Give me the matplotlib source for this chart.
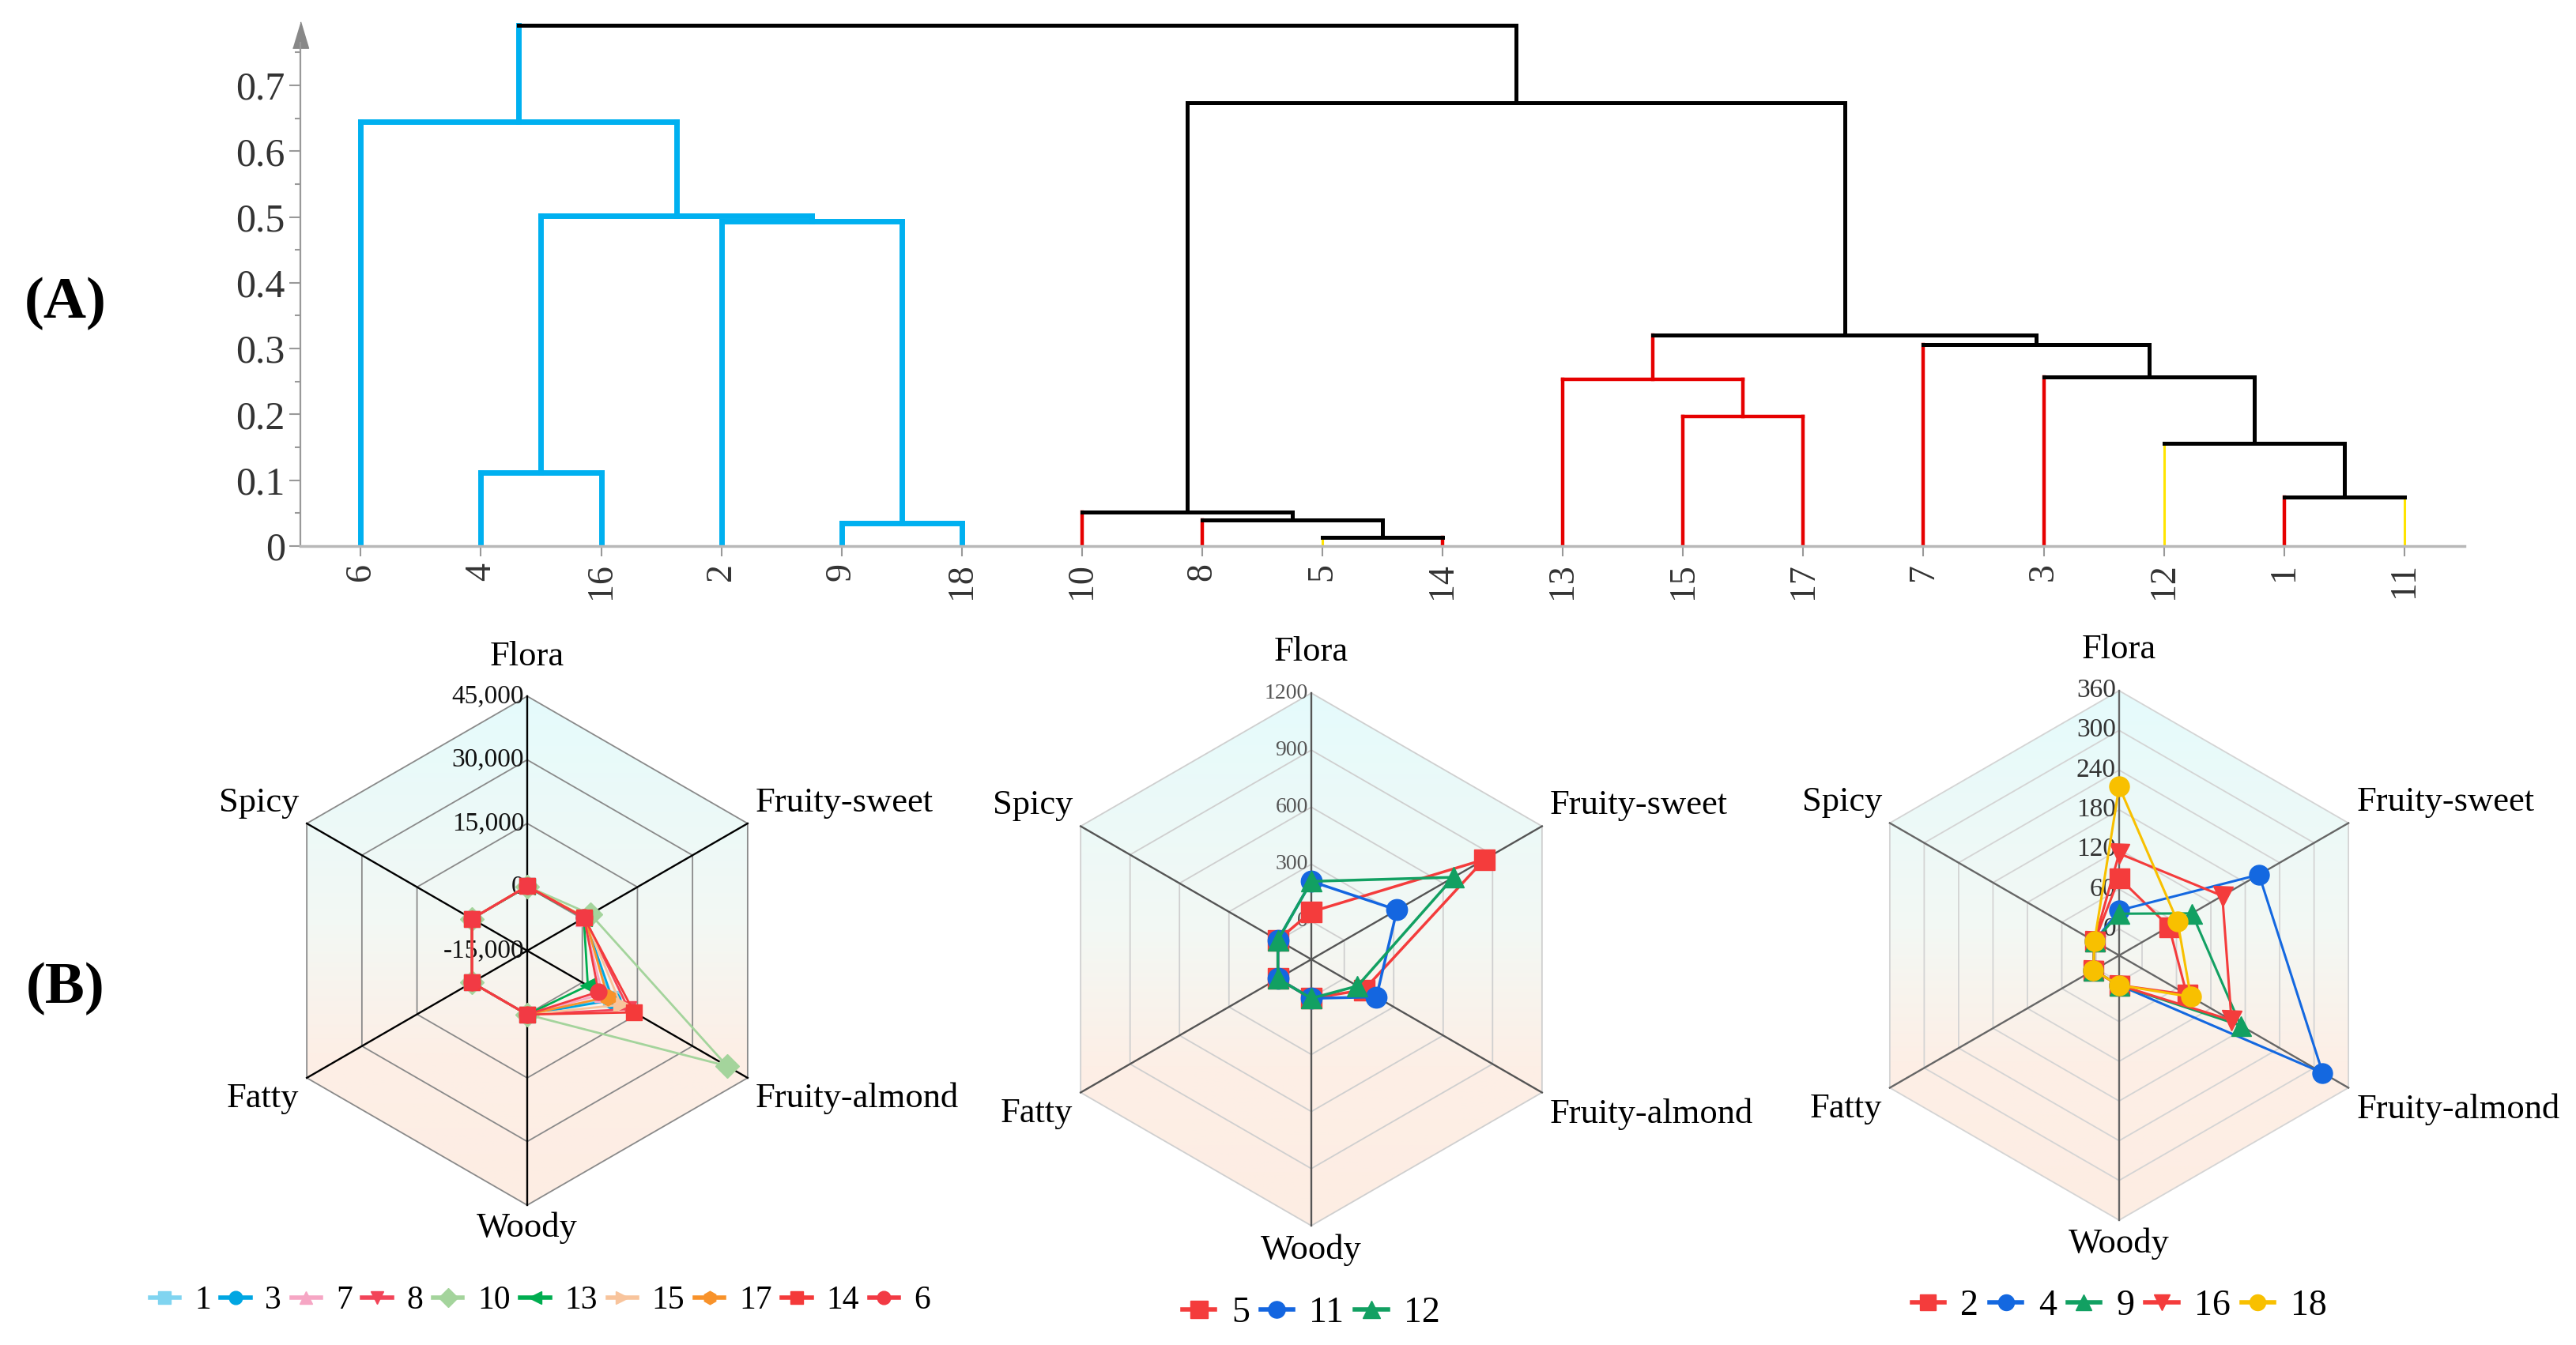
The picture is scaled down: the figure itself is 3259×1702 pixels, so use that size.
import numpy as np
import matplotlib
matplotlib.use("Agg")
from matplotlib import pyplot as plt
from matplotlib.patches import Polygon

plt.rcParams['font.family'] = ['Liberation Serif', 'DejaVu Serif']

# ---------------- (A) dendrogram data ----------------
LEAF_LABELS = ["6", "4", "16", "2", "9", "18", "10", "8", "5", "14",
               "13", "15", "17", "7", "3", "12", "1", "11"]
LEAF_GROUPS = ["blue", "blue", "blue", "blue", "blue", "blue",
               "red", "red", "yellow", "red", "red", "red", "red",
               "red", "red", "yellow", "red", "yellow"]
# leaves are nodes 0..17, merge k creates node 18+k
MERGE_LEFT = [4, 8, 7, 6, 16, 1, 15, 11, 10, 14, 13, 26, 3, 23, 0, 21, 32]
MERGE_RIGHT = [5, 9, 19, 20, 17, 2, 22, 12, 25, 24, 27, 28, 18, 30, 31, 29, 33]
MERGE_HEIGHT = [0.035, 0.013, 0.040, 0.052, 0.074, 0.112, 0.156, 0.197, 0.253,
                0.257, 0.306, 0.320, 0.494, 0.502, 0.645, 0.673, 0.791]

# ---------------- (B) radar data ----------------
AXIS_NAMES = ["Flora", "Fruity-sweet", "Fruity-almond", "Woody", "Fatty", "Spicy"]

G1_LABELS = ["1", "3", "7", "8", "10", "13", "15", "17", "14", "6"]
G1_VALUES = [
    [200, 500, 7800, 60, 40, 50],
    [200, 500, 8300, 60, 40, 50],
    [250, 300, 5500, 60, 40, 50],
    [200, 600, 12600, 60, 40, 50],
    [150, 2200, 39400, 60, 40, 50],
    [100, 400, 1500, 60, 40, 50],
    [250, 600, 10500, 60, 40, 50],
    [250, 700, 6900, 60, 40, 50],
    [200, 500, 14100, 60, 40, 50],
    [200, 500, 4400, 60, 40, 50],
]
G1_TICKS = [-15000, 0, 15000, 30000, 45000]
G1_TICK_TEXT = ["-15,000", "0", "15,000", "30,000", "45,000"]

G2_LABELS = ["5", "11", "12"]
G2_VALUES = [
    [50, 850, 120, 5, 3, 3],
    [210, 320, 195, 5, 3, 3],
    [210, 663, 80, 5, 3, 3],
]
G2_TICKS = [-200, 0, 300, 600, 900, 1200]
G2_TICK_TEXT = ["", "0", "300", "600", "900", "1200"]

G3_LABELS = ["2", "4", "9", "16", "18"]
G3_VALUES = [
    [77, 47, 78, 5, 5, 3],
    [28, 204, 315, 5, 5, 3],
    [23, 87, 172, 5, 5, 3],
    [114, 140, 156, 5, 5, 3],
    [215, 62, 85, 5, 5, 3],
]
G3_TICKS = [-40, 0, 60, 120, 180, 240, 300, 360]
G3_TICK_TEXT = ["", "0", "60", "120", "180", "240", "300", "360"]

G1_COLORS = ["#80d4f0", "#00a6e2", "#f6a6c4", "#f24458", "#a4d49c",
             "#00ad50", "#f8c49c", "#f8922a", "#f43a3a", "#f23a44"]
G1_MARKERS = ["s", "o", "^", "v", "D", "<", ">", "h", "s", "o"]
G2_COLORS = ["#f43c3c", "#1466e0", "#12a062"]
G2_MARKERS = ["s", "o", "^"]
G3_COLORS = ["#f43c3c", "#1468e0", "#12a062", "#f43c3c", "#f8c000"]
G3_MARKERS = ["s", "o", "^", "v", "o"]

W, H = 3259, 1702
fig = plt.figure(figsize=(W / 100, H / 100), dpi=100)

# ---------------- dendrogram ----------------
ax = fig.add_axes([0.1167, 0.594, 0.840, 0.3915])
ax.set_xlim(-0.5, 17.5)
ax.set_ylim(0, 0.8)

col = {"blue": "#00b0f0", "red": "#e60000", "yellow": "#ffe400", "black": "#000000"}
lw = {"blue": 5.0, "red": 3.2, "yellow": 2.2, "black": 3.6}

node_x = list(range(len(LEAF_LABELS)))
node_y = [0.0] * len(LEAF_LABELS)
node_c = list(LEAF_GROUPS)
for left, right, h in zip(MERGE_LEFT, MERGE_RIGHT, MERGE_HEIGHT):
    c = node_c[left] if node_c[left] == node_c[right] else "black"
    for n in (left, right):
        ax.plot([node_x[n], node_x[n]], [node_y[n], h], color=col[node_c[n]],
                lw=lw[node_c[n]], solid_capstyle="projecting")
    ax.plot([node_x[left], node_x[right]], [h, h], color=col[c], lw=lw[c],
            solid_capstyle="projecting")
    node_x.append((node_x[left] + node_x[right]) / 2)
    node_y.append(h)
    node_c.append(c)

for s in ("top", "right"):
    ax.spines[s].set_visible(False)
ax.spines["left"].set_color("#999999")
ax.spines["left"].set_linewidth(1.6)
ax.spines["left"].set_bounds(0, 0.765)
ax.spines["bottom"].set_color("#b8b8b8")
ax.spines["bottom"].set_linewidth(2.5)
ax.plot([-0.5], [0.777], marker=[(-0.6, -1), (0.6, -1), (0, 1)], ms=24,
        color="#888888", clip_on=False)

ax.set_yticks(np.arange(0, 0.71, 0.1))
ax.set_yticklabels(["0", "0.1", "0.2", "0.3", "0.4", "0.5", "0.6", "0.7"])
ax.set_yticks(np.arange(0.05, 0.76, 0.1), minor=True)
ax.tick_params(axis="y", which="major", length=10, width=1.5, color="#999999",
               labelsize=36, labelcolor="#333333", pad=4)
ax.tick_params(axis="y", which="minor", length=5, width=1.5, color="#999999")
ax.set_xticks(range(len(LEAF_LABELS)))
ax.set_xticklabels(LEAF_LABELS, rotation=90)
ax.tick_params(axis="x", length=9, width=1.5, color="#999999",
               labelsize=33, labelcolor="#333333", pad=6)

fig.text(0.0255, 0.774, "(A)", fontsize=54, fontweight="bold", ha="center", va="center")
fig.text(0.0255, 0.265, "(B)", fontsize=54, fontweight="bold", ha="center", va="center")

# ---------------- radar charts ----------------
ang = np.deg2rad(np.arange(6) * 60.0)
ring_ang = np.append(ang, ang[0])


def gradient_image():
    ys = np.linspace(1, -1, 300)
    stops_y = [1.0, 0.1, -0.4, -1.0]
    stops_c = np.array([[229, 251, 252], [243, 248, 244], [253, 239, 230], [253, 237, 227]]) / 255
    img = np.zeros((300, 2, 3))
    for k in range(3):
        img[:, :, k] = np.interp(ys, stops_y[::-1], stops_c[::-1, k])[:, None]
    return img


def radar(cx, cy, R, labels, values, colors, markers, ticks, tick_text, tick_size,
          tick_color, spoke_color, ring_color, ms, line_w, leg_xy, leg_size):
    half = 1.5
    s = half * R
    rx = fig.add_axes([(cx - s) / W, (H - cy - s) / H, 2 * s / W, 2 * s / H])
    rx.axis("off")
    vmin, vmax = ticks[0], ticks[-1]

    hexagon = Polygon(np.column_stack([np.sin(ang), np.cos(ang)]), closed=True,
                      transform=rx.transData)
    im = rx.imshow(gradient_image(), extent=(-1, 1, -1, 1), aspect="auto", zorder=0)
    im.set_clip_path(hexagon)

    for t in ticks[1:]:
        r = (t - vmin) / (vmax - vmin)
        rx.plot(r * np.sin(ring_ang), r * np.cos(ring_ang), color=ring_color, lw=1.3, zorder=1)
    for a in ang:
        rx.plot([0, np.sin(a)], [0, np.cos(a)], color=spoke_color, lw=1.7, zorder=1)

    for t, txt in zip(ticks, tick_text):
        r = (t - vmin) / (vmax - vmin)
        rx.text(-0.012, r, txt, ha="right", va="center", fontsize=tick_size,
                color=tick_color, zorder=2)

    for lab, vals, c, m in zip(labels, values, colors, markers):
        r = (np.array(vals + vals[:1], dtype=float) - vmin) / (vmax - vmin)
        rx.plot(r * np.sin(ring_ang), r * np.cos(ring_ang), color=c, lw=line_w,
                marker=m, ms=ms, markevery=list(range(6)), label=lab, zorder=3)

    fs = 32
    rx.text(0, 1.155, AXIS_NAMES[0], ha="center", va="center", fontsize=fs)
    rx.text(np.sin(ang[1]) + 0.03, np.cos(ang[1]) + 0.08, AXIS_NAMES[1], ha="left", va="center", fontsize=fs)
    rx.text(np.sin(ang[2]) + 0.03, np.cos(ang[2]) - 0.08, AXIS_NAMES[2], ha="left", va="center", fontsize=fs)
    rx.text(0, -1.09, AXIS_NAMES[3], ha="center", va="center", fontsize=fs)
    rx.text(np.sin(ang[4]) - 0.03, np.cos(ang[4]) - 0.08, AXIS_NAMES[4], ha="right", va="center", fontsize=fs)
    rx.text(np.sin(ang[5]) - 0.03, np.cos(ang[5]) + 0.08, AXIS_NAMES[5], ha="right", va="center", fontsize=fs)

    rx.set_xlim(-half, half)
    rx.set_ylim(-half, half)

    leg = rx.legend(loc="center", bbox_to_anchor=leg_xy, bbox_transform=rx.transData,
                    ncol=len(labels), frameon=False, fontsize=leg_size, handlelength=0.9,
                    handletextpad=0.45, columnspacing=0.3, markerscale=0.8,
                    borderaxespad=0, borderpad=0)
    for line in leg.get_lines():
        line.set_linewidth(4)
    return rx


radar(667, 1203, 322, G1_LABELS, G1_VALUES, G1_COLORS, G1_MARKERS, G1_TICKS,
      G1_TICK_TEXT, 24, "#111111", "#000000", "#8a8a8a", 15, 2.0, (0.05, -1.376), 30)
radar(1659, 1214, 337, G2_LABELS, G2_VALUES, G2_COLORS, G2_MARKERS, G2_TICKS,
      G2_TICK_TEXT, 20, "#555555", "#555555", "#cfcfcf", 19, 2.5, (0.0, -1.33), 33)
radar(2681, 1209, 335, G3_LABELS, G3_VALUES, G3_COLORS, G3_MARKERS, G3_TICKS,
      G3_TICK_TEXT, 24, "#333333", "#666666", "#d4d4d4", 18, 2.2, (0.0, -1.325), 33)

fig.savefig("out.png", dpi=100, facecolor="white")
